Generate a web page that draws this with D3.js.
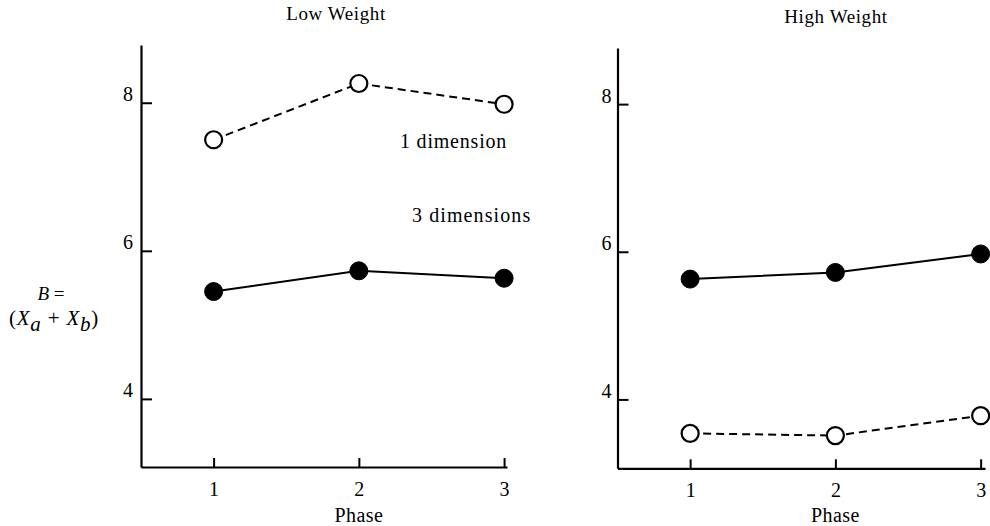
<!DOCTYPE html>
<html>
<head>
<meta charset="utf-8">
<script src="https://cdn.jsdelivr.net/npm/d3@7"></script>
<style>
  html, body { margin: 0; padding: 0; background: #fff; }
  svg { display: block; }
  svg text { font-family: "Liberation Serif", "Times New Roman", serif; fill: #000; }
</style>
</head>
<body>
<svg id="chart" width="990" height="526"></svg>
<script>
// Phases on the horizontal axis
const phases = [1, 2, 3];
const phaseTicks = [1, 2, 3];
const yTicks = [4, 6, 8];

// Mean B = (Xa + Xb) per phase
const lowOneDim = [7.50, 8.26, 7.98];
const lowThreeDim = [5.45, 5.73, 5.63];
const highThreeDim = [5.63, 5.72, 5.97];
const highOneDim = [3.54, 3.51, 3.78];

const panelTitles = ["Low Weight", "High Weight"];
const seriesLabels = ["1 dimension", "3 dimensions"];

const SERIF = "Liberation Serif, Times New Roman, serif";

const svg = d3.select("#chart");

const panels = [
  {
    title: panelTitles[0],
    x: d3.scaleLinear().domain([0.5, 3.02]).range([141, 507]),
    y: d3.scaleLinear().domain([3.08, 8.78]).range([467, 45]),
    titleX: 336, titleY: 20,
    yPad: 8,
    series: [
      { values: lowOneDim, open: true },
      { values: lowThreeDim, open: false }
    ]
  },
  {
    title: panelTitles[1],
    x: d3.scaleLinear().domain([0.5, 3.03]).range([617.5, 985]),
    y: d3.scaleLinear().domain([3.067, 8.76]).range([468.3, 48]),
    titleX: 836, titleY: 23,
    yPad: 6,
    series: [
      { values: highThreeDim, open: false },
      { values: highOneDim, open: true }
    ]
  }
];

panels.forEach(p => {
  const g = svg.append("g");
  const [x0, x1] = p.x.range();
  const [y0, y1] = p.y.range();

  // y axis with inward ticks
  const yAxis = d3.axisLeft(p.y)
    .tickValues(yTicks)
    .tickFormat(d3.format("d"))
    .tickSizeInner(-11)
    .tickSizeOuter(0)
    .tickPadding(p.yPad);
  const ya = g.append("g").attr("transform", `translate(${x0},0)`).call(yAxis);
  ya.attr("font-family", SERIF);
  ya.select(".domain").attr("stroke", "#000").attr("stroke-width", 2.2);
  ya.selectAll(".tick line").attr("stroke", "#000").attr("stroke-width", 2);
  ya.selectAll(".tick text")
    .attr("font-size", 20).attr("dy", "-0.1em");

  // x axis with inward ticks
  const xAxis = d3.axisBottom(p.x)
    .tickValues(phaseTicks)
    .tickFormat(d3.format("d"))
    .tickSizeInner(-9)
    .tickSizeOuter(0)
    .tickPadding(15);
  const xa = g.append("g").attr("transform", `translate(0,${y0})`).call(xAxis);
  xa.attr("font-family", SERIF);
  xa.select(".domain").attr("stroke", "#000").attr("stroke-width", 2.2);
  xa.selectAll(".tick line").attr("stroke", "#000").attr("stroke-width", 2);
  xa.selectAll(".tick text")
    .attr("font-size", 20);

  // axis title
  g.append("text")
    .attr("x", p.x(2))
    .attr("y", 522)
    .attr("text-anchor", "middle")
    .attr("font-family", SERIF)
    .attr("font-size", 20)
    .attr("letter-spacing", 0.4)
    .text("Phase");

  // panel title
  g.append("text")
    .attr("x", p.titleX)
    .attr("y", p.titleY)
    .attr("text-anchor", "middle")
    .attr("font-family", SERIF)
    .attr("font-size", 19)
    .attr("letter-spacing", 0.6)
    .text(p.title);

  // series lines and markers
  const line = d3.line()
    .x((d, i) => p.x(phases[i]))
    .y(d => p.y(d));

  p.series.forEach(s => {
    g.append("path")
      .datum(s.values)
      .attr("d", line)
      .attr("fill", "none")
      .attr("stroke", "#000")
      .attr("stroke-width", 2)
      .attr("stroke-dasharray", s.open ? "8,5" : null);

    g.selectAll(null)
      .data(s.values)
      .enter()
      .append("circle")
      .attr("cx", (d, i) => p.x(phases[i]))
      .attr("cy", d => p.y(d))
      .attr("r", s.open ? 8.5 : 9)
      .attr("fill", s.open ? "#fff" : "#000")
      .attr("stroke", "#000")
      .attr("stroke-width", s.open ? 2.2 : 1);
  });
});

// series labels in the left panel
svg.append("text")
  .attr("x", 400).attr("y", 148)
  .attr("font-family", SERIF)
  .attr("font-size", 20)
  .attr("letter-spacing", 0.8)
  .text(seriesLabels[0]);
svg.append("text")
  .attr("x", 412).attr("y", 222)
  .attr("font-family", SERIF)
  .attr("font-size", 20)
  .attr("letter-spacing", 1.1)
  .text(seriesLabels[1]);

// y axis label: B = (Xa + Xb)
const yl = svg.append("g").attr("font-family", SERIF);
const l1 = yl.append("text")
  .attr("x", 51).attr("y", 300)
  .attr("text-anchor", "middle")
  .attr("font-size", 19);
l1.append("tspan").attr("font-style", "italic").text("B");
l1.append("tspan").text(" =");

const l2 = yl.append("text")
  .attr("x", 54).attr("y", 325)
  .attr("text-anchor", "middle")
  .attr("font-size", 21)
  .attr("letter-spacing", 0.8);
l2.append("tspan").text("(");
l2.append("tspan").attr("font-style", "italic").text("X");
l2.append("tspan").attr("font-style", "italic").attr("dy", 6).text("a");
l2.append("tspan").attr("dy", -6).text(" + ");
l2.append("tspan").attr("font-style", "italic").text("X");
l2.append("tspan").attr("font-style", "italic").attr("dy", 6).text("b");
l2.append("tspan").attr("dy", -6).text(")");
</script>
</body>
</html>
